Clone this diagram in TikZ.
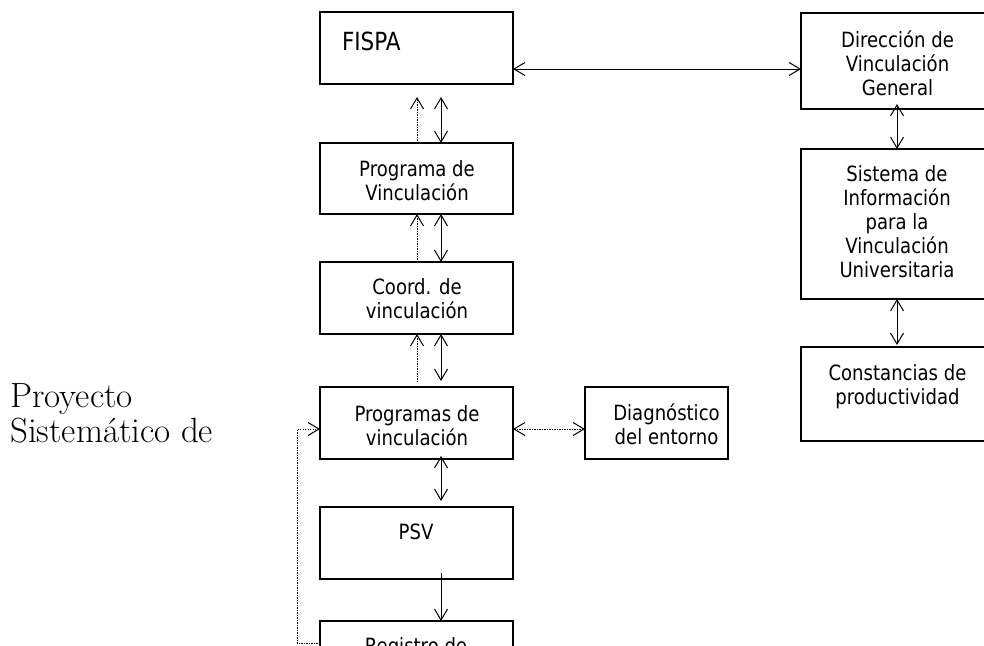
\documentclass[tikz,border=0pt]{standalone}
\usepackage{fontspec}
\newfontfamily\boxfont{DejaVu Sans}[FakeStretch=0.86]
\usetikzlibrary{arrows.meta}
\begin{document}
\begin{tikzpicture}[x=1pt,y=-1pt,
  box/.style={draw, line width=1.6pt, minimum width=193pt, minimum height=72pt, inner sep=0pt, outer sep=0pt},
  txt/.style={inner sep=0pt, outer sep=0pt, align=center, anchor=north, font=\boxfont\fontsize{21}{24}\selectfont},
  vtip/.tip={Straight Barb[length=11pt,width=13pt]},
  conn/.style={line width=1pt},
  dbl/.style={conn, vtip-vtip},
  sgl/.style={conn, -vtip},
  dots/.style={conn, dash pattern=on 1.2pt off 1.3pt},
]
\useasboundingbox (0,0) rectangle (984,645);
\clip (0,0) rectangle (984,645);

% boxes
\node[box] (fispa) at (416.5,48) {};
\node[box, minimum height=71pt] (progv) at (416.5,178.5) {};
\node[box] (coord) at (416.5,298) {};
\node[box] (progs) at (416.5,423) {};
\node[box] (psv) at (416.5,543) {};
\node[box] (reg) at (416.5,657) {};
\node[box, minimum width=143pt] (diag) at (656.5,423) {};
\node[box, minimum width=194pt, minimum height=96pt] (dir) at (898,61) {};
\node[box, minimum width=194pt, minimum height=150pt] (sis) at (898,224) {};
\node[box, minimum width=194pt, minimum height=94pt] (const) at (898,394) {};

% texts
\node[txt, anchor=base west, font=\boxfont\fontsize{25}{30}\selectfont] (tfispa) at (342,50) {FISPA};
\node[txt] (tprogv) at (417,158) {\rule{0pt}{18pt}Programa de\\Vinculación};
\node[txt] (tcoord) at (417,276) {\rule{0pt}{18pt}Coord. de\\vinculación};
\node[txt] (tprogs) at (417,403) {\rule{0pt}{18pt}Programas de\\vinculación};
\node[txt] (tdiag) at (666.5,402) {\rule{0pt}{18pt}Diagnóstico\\del entorno};
\node[txt] (tpsv) at (416,521) {\rule{0pt}{18pt}PSV};
\node[txt] (treg) at (416,635) {\rule{0pt}{18pt}Registro de};
\node[txt] (tdir) at (897.5,29) {\rule{0pt}{18pt}Dirección de\\Vinculación\\General};
\node[txt] (tsis) at (897,163.5) {\rule{0pt}{18pt}Sistema de\\Información\\para la\\Vinculación\\Universitaria};
\node[txt] (tconst) at (897.5,362) {\rule{0pt}{18pt}Constancias de\\productividad};

\node[inner sep=0pt, anchor=north west, align=left, font=\fontsize{35}{35}\selectfont] (proy) at (10,380) {\rule{0pt}{27pt}Proyecto\\Sistemático de};

% connectors
\draw[dbl] ([yshift=-21pt]fispa.east) -- ([yshift=-8pt]dir.west);

\draw[dbl, shorten >=13pt] ([xshift=24.5pt]progv.north) -- ([xshift=24.5pt]fispa.south);
\draw[dots, -vtip, shorten >=13pt] ([xshift=0.5pt]progv.north) -- ([xshift=0.5pt]fispa.south);

\draw[dbl] ([xshift=24.5pt]coord.north) -- ([xshift=24.5pt]progv.south);
\draw[dots, -vtip] ([xshift=0.5pt]coord.north) -- ([xshift=0.5pt]progv.south);

\draw[dbl, shorten <=6pt] ([xshift=24.5pt]progs.north) -- ([xshift=24.5pt]coord.south);
\draw[dots, -vtip, shorten <=5pt] ([xshift=0.5pt]progs.north) -- ([xshift=0.5pt]coord.south);

\draw[dbl, shorten <=-3pt, shorten >=6pt] ([xshift=24.5pt]progs.south) -- ([xshift=24.5pt]psv.north);
\draw[sgl, shorten <=-6pt] ([xshift=24.5pt]psv.south) -- ([xshift=24.5pt]reg.north);

\draw[dots, vtip-vtip] ([yshift=-6pt]progs.east) -- ([yshift=-6pt]diag.west);
\draw[dots, -vtip] ([yshift=14pt]reg.west) -- ++(-23,0) |- ([yshift=-6pt]progs.west);

\draw[dbl, shorten <=-5pt] ([xshift=-1pt]dir.south) -- ([xshift=-1pt]sis.north);
\draw[dbl, shorten >=2pt] ([xshift=-1pt]sis.south) -- ([xshift=-1pt]const.north);
\end{tikzpicture}
\end{document}
